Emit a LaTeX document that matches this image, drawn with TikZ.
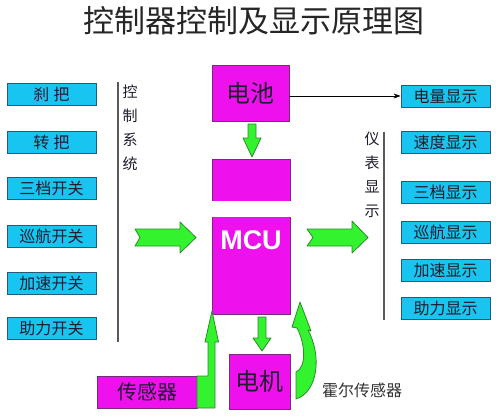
\documentclass[tikz,border=0pt]{standalone}
\usepackage{fontspec}
\setmainfont{Noto Sans CJK SC}
\newfontfamily\mcufont{Liberation Sans}
\usetikzlibrary{arrows.meta}
\definecolor{cyanfill}{HTML}{18C4F0}
\definecolor{cyanedge}{HTML}{2A5A7A}
\definecolor{magfill}{HTML}{EE11EE}
\definecolor{magedge}{HTML}{7A2A7A}
\definecolor{grnfill}{HTML}{33F22E}
\definecolor{grnedge}{HTML}{2E8B2E}
\definecolor{txt}{HTML}{1E1E2E}
\begin{document}
\begin{tikzpicture}[x=1pt,y=-1pt,
  inbox/.style={draw=cyanedge, fill=cyanfill, line width=0.9pt, minimum width=89pt, minimum height=22pt, inner sep=0pt, font=\fontsize{16}{16}\selectfont, text=txt},
  magbox/.style={draw=magedge, fill=magfill, line width=0.8pt, inner sep=0pt, text=txt},
  garrow/.style={fill=grnfill, draw=grnedge, line width=0.8pt, line join=round},
  vline/.style={draw=gray!70!black, line width=1.2pt},
  vtext/.style={font=\fontsize{15}{24}\selectfont, text=txt, align=center, inner sep=0pt}
]
\useasboundingbox (0,0) rectangle (500,417);
\fill[white] (0,0) rectangle (500,417);

% title
\node[text=black!85] (title) at (254,21) {\fontsize{31}{31}\selectfont 控制器控制及显示原理图};

% left inputs
\node[inbox] (i1) at (51.5,94.5) {刹\;把};
\node[inbox] (i2) at (51.5,142) {转\;把};
\node[inbox] (i3) at (51.5,188.5) {三档开关};
\node[inbox] (i4) at (51.5,236.5) {巡航开关};
\node[inbox] (i5) at (51.5,283) {加速开关};
\node[inbox] (i6) at (51.5,328.5) {助力开关};

% right displays
\node[inbox] (d1) at (445.5,96) {电量显示};
\node[inbox] (d2) at (445.5,142.5) {速度显示};
\node[inbox] (d3) at (445.5,192.5) {三档显示};
\node[inbox] (d4) at (445.5,232) {巡航显示};
\node[inbox] (d5) at (445.5,270.5) {加速显示};
\node[inbox] (d6) at (445.5,308.5) {助力显示};

% separators and vertical captions
\coordinate (lt) at (118,82);
\coordinate (lb) at (118,342);
\draw[vline] (lt) -- (lb);
\node[vtext] (ctrl) at (130,128) {控\\制\\系\\统};
\coordinate (rt) at (384,132);
\coordinate (rb) at (384,320);
\draw[vline] (rt) -- (rb);
\node[vtext] (disp) at (372,175) {仪\\表\\显\\示};

% central blocks
\node[magbox, minimum width=77pt, minimum height=56pt] (bat) at (250.5,93) {\fontsize{24}{24}\selectfont 电池};
\node[magbox, minimum width=78pt, minimum height=155pt] (mcu) at (251.5,236.5) {};
\fill[white] (210,201) rectangle (293,217);
\node[text=white, font=\mcufont\bfseries\fontsize{27}{27}\selectfont] (mcul) at (251,240) {MCU};
\node[magbox, minimum width=61pt, minimum height=55pt] (motor) at (259.5,381.5) {\fontsize{24}{24}\selectfont 电机};
\node[magbox, minimum width=100pt, minimum height=32pt] (sensor) at (147,392) {\fontsize{20}{20}\selectfont 传感器};
\node[text=black!80, font=\fontsize{16}{16}\selectfont] (hall) at (362,390) {霍尔传感器};

% battery -> display line
\draw[-{Stealth[length=7pt,width=5pt]}, line width=0.6pt] (bat.east |- d1.west) -- (d1.west);

% green block arrows
\draw[garrow] (135,229) -- (180,229) -- (180,222) -- (196,237.5) -- (180,253) -- (180,246) -- (135,246) -- (140,237.5) -- cycle;
\draw[garrow] (307,229) -- (352,229) -- (352,221) -- (368,237.5) -- (352,253) -- (352,246) -- (307,246) -- (313,237.5) -- cycle;
\draw[garrow] (248,124) -- (256,124) -- (256,138) -- (261,138) -- (252,157) -- (243,138) -- (248,138) -- cycle;
\draw[garrow] (258,317) -- (266,317) -- (266,338) -- (271,338) -- (262,351) -- (253,338) -- (258,338) -- cycle;
\draw[garrow] (197,408) -- (215,408) -- (215,342) -- (218.5,342) -- (212,311) -- (205,342) -- (208,342) -- (208,376) -- (197,376) -- cycle;
\draw[garrow] (296,399) .. controls (318,392) and (322,356) .. (308,330) -- (311,331) -- (300,302) -- (292,327) -- (297,328) .. controls (306,345) and (306,368) .. (296,372) -- cycle;
\end{tikzpicture}
\end{document}
